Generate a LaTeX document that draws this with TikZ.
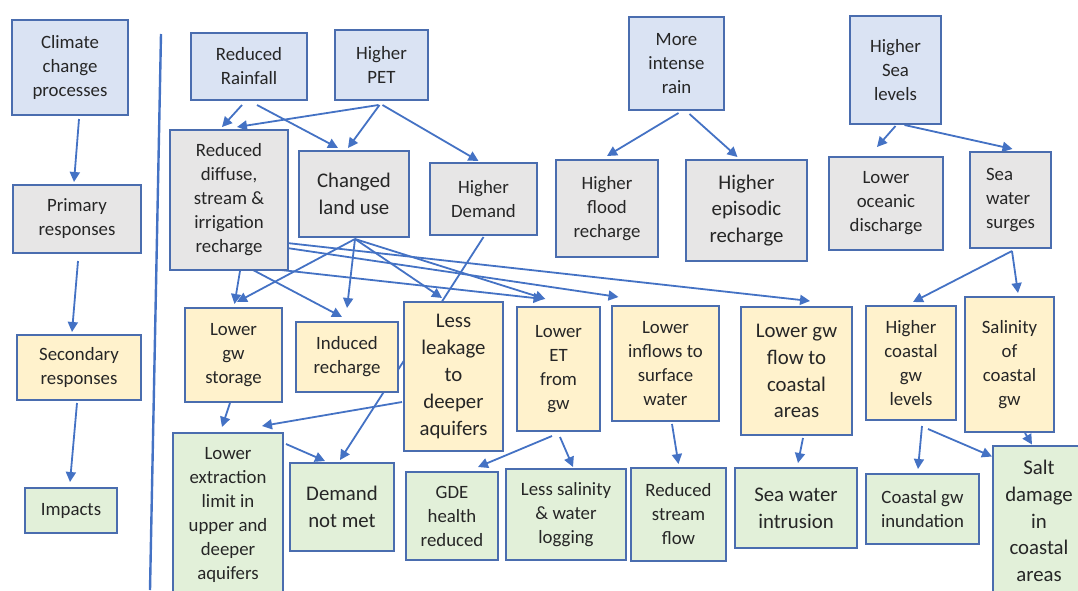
\documentclass[tikz,border=0pt]{standalone}
\usepackage{fontspec}
\setmainfont{Carlito}
\usetikzlibrary{arrows.meta,backgrounds}
\definecolor{boxline}{HTML}{4A6DAF}
\definecolor{arrline}{HTML}{4472C4}
\definecolor{climfill}{HTML}{DAE3F3}
\definecolor{primfill}{HTML}{E7E6E6}
\definecolor{secfill}{HTML}{FFF2CC}
\definecolor{impfill}{HTML}{E2F0D9}
\definecolor{txt}{HTML}{262626}
\begin{document}
\begin{tikzpicture}[
    x=0.5pt, y=-0.5pt,
    >={Triangle[length=5pt,width=5pt]},
    box/.style={
        draw=boxline,
        line width=1pt,
        align=center,
        inner sep=1pt,
        text=txt,
        font=\fontsize{9.4}{12}\selectfont
    },
    bigtxt/.style={font=\fontsize{10.4}{13.4}\selectfont},
    sz/.style 2 args={minimum width=#1*0.5pt, minimum height=#2*0.5pt},
    climbox/.style={box, fill=climfill},
    primbox/.style={box, fill=primfill},
    secbox/.style={box, fill=secfill},
    impbox/.style={box, fill=impfill},
    arr/.style={->, draw=arrline, line width=0.9pt}
]
    \clip (0,0) rectangle (1078,590);

    \node[climbox, sz={116}{95}] (legclim) at (70,67.5)
        {Climate\\change\\processes};
    \node[primbox, sz={128}{68}] (legprim) at (77,219)
        {Primary\\responses};
    \node[secbox, sz={124}{65}] (legsec) at (79,367.5)
        {Secondary\\responses};
    \node[impbox, sz={92}{45}] (legimp) at (71,510.5)
        {Impacts};

    \coordinate (divtop) at (161,34);
    \coordinate (divbot) at (150,590);
    \draw[arrline, line width=1.2pt] (divtop) -- (divbot);

    \node[climbox, sz={116}{67}] (rain) at (249,66.5)
        {Reduced\\Rainfall};
    \node[climbox, sz={93}{70}] (pet) at (381.5,65)
        {Higher\\PET};
    \node[climbox, sz={95}{93}] (intense) at (676.5,63.5)
        {More\\intense\\rain};
    \node[climbox, sz={91}{108}] (sealev) at (895.5,70)
        {Higher\\Sea\\levels};

    \node[primbox, sz={118}{140}] (diffuse) at (229,200)
        {Reduced\\diffuse,\\stream \&\\irrigation\\recharge};
    \node[primbox, bigtxt, sz={110}{86}] (landuse) at (354,194)
        {Changed\\land use};
    \node[primbox, sz={107}{72}] (demand) at (483.5,199)
        {Higher\\Demand};
    \node[primbox, sz={102}{97}] (flood) at (607,208.5)
        {Higher\\flood\\recharge};
    \node[primbox, bigtxt, sz={121}{101}] (episodic) at (746.5,210.5)
        {Higher\\episodic\\recharge};
    \node[primbox, sz={114}{93}] (oceanic) at (886,203.5)
        {Lower\\oceanic\\discharge};
    \node[primbox, align=left, sz={81}{96}] (surges) at (1010.5,200)
        {Sea\\water\\surges};

    \node[secbox, sz={97}{94}] (storage) at (233.5,355)
        {Lower\\gw\\storage};
    \node[secbox, sz={102}{70}] (induced) at (347,357)
        {Induced\\recharge};
    \node[secbox, bigtxt, sz={99}{149}] (leakage) at (453.5,376.5)
        {Less\\leakage\\to\\deeper\\aquifers};
    \node[secbox, sz={83}{124}] (lowet) at (558.5,369)
        {Lower\\ET\\from\\gw};
    \node[secbox, sz={107}{115}] (inflows) at (665.5,363.5)
        {Lower\\inflows to\\surface\\water};
    \node[secbox, bigtxt, sz={111}{128}] (gwflow) at (796.5,371)
        {Lower gw\\flow to\\coastal\\areas};
    \node[secbox, sz={90}{114}] (coastlev) at (911,363)
        {Higher\\coastal\\gw\\levels};
    \node[secbox, sz={89}{135}] (salinity) at (1009.5,364.5)
        {Salinity\\of\\coastal\\gw};

    \node[impbox, sz={110}{164}] (extract) at (228,515)
        {Lower\\extraction\\limit in\\upper and\\deeper\\aquifers};
    \node[impbox, bigtxt, sz={104}{88}] (notmet) at (342,507)
        {Demand\\not met};
    \node[impbox, sz={92}{88}] (gde) at (452,516)
        {GDE\\health\\reduced};
    \node[impbox, sz={120}{91}] (lesssal) at (566,514.5)
        {Less salinity\\\& water\\logging};
    \node[impbox, sz={95}{93}] (stream) at (678.5,514.5)
        {Reduced\\stream\\flow};
    \node[impbox, bigtxt, sz={122}{80}] (intrusion) at (796,508)
        {Sea water\\intrusion};
    \node[impbox, sz={113}{70}] (inund) at (922.5,509)
        {Coastal gw\\inundation};
    \node[impbox, bigtxt, sz={92}{151}] (saltdmg) at (1039,521)
        {Salt\\damage\\in\\coastal\\areas};

    \begin{scope}[on background layer]
    \draw[arr] ([shift={(9,3)}]legclim.south) -- ([shift={(-3,-2)}]legprim.north);
    \draw[arr] ([shift={(1,7)}]legprim.south) -- ([shift={(-7,-2)}]legsec.north);
    \draw[arr] ([shift={(-2,2)}]legsec.south) -- ([shift={(-1,-5)}]legimp.north);

    \draw[arr] ([shift={(-7,4)}]rain.south) -- ([shift={(-7,-2)}]diffuse.north);
    \draw[arr] ([shift={(8,4)}]rain.south) -- ([shift={(-16,-2)}]landuse.north);
    \draw[arr] ([shift={(-3,4)}]pet.south) -- ([shift={(8,-2)}]diffuse.north);
    \draw[arr] ([shift={(-2,4)}]pet.south) -- ([shift={(-6,-2)}]landuse.north);
    \draw[arr] ([shift={(1,4)}]pet.south) -- ([shift={(-5,-1)}]demand.north);
    \draw[arr] ([shift={(2,2)}]intense.south) -- ([shift={(0,-3)}]flood.north);
    \draw[arr] ([shift={(13,3)}]intense.south) -- ([shift={(-9,-2)}]episodic.north);
    \draw[arr] ([shift={(0,1)}]sealev.south) -- ([shift={(-9,-9)}]oceanic.north);
    \draw[arr] ([shift={(9,0)}]sealev.south) -- ([shift={(2,-2)}]surges.north);

    \draw[arr] ([shift={(11,0)}]diffuse.south) -- ([shift={(1,-3)}]storage.north);
    \draw[arr] ([shift={(24,-1)}]diffuse.south) -- ([shift={(-5,-4)}]induced.north);
    \draw[arr] ([shift={(34,-3)}]diffuse.south) -- ([shift={(-15,-7)}]lowet.north);
    \draw[arr] ([shift={(-2,48)}]diffuse.east) -- ([shift={(-47,-8)}]inflows.north);
    \draw[arr] ([shift={(-2,43)}]diffuse.east) -- ([shift={(13.5,-5)}]gwflow.north);
    \draw[arr] ([shift={(1,1)}]landuse.south) -- ([shift={(3.5,-5)}]storage.north);
    \draw[arr] ([shift={(1,1)}]landuse.south) -- ([shift={(0,-13)}]induced.north);
    \draw[arr] ([shift={(1,1)}]landuse.south) -- ([shift={(-11.5,-3)}]leakage.north);
    \draw[arr] ([shift={(1,1)}]landuse.south) -- ([shift={(-13,-7)}]lowet.north);
    \draw[arr] ([shift={(0,1)}]demand.south) -- ([shift={(-2,-2)}]notmet.north);

    \draw[arr] ([shift={(-3.5,0)}]storage.south) -- ([shift={(-6,-5)}]extract.north);
    \draw[arr] ([shift={(-1,25.5)}]leakage.west) -- ([shift={(34,-6)}]extract.north);
    \draw[arr] ([shift={(2,12)}]extract.north east) -- ([shift={(-17,-1)}]notmet.north);
    \draw[arr] ([shift={(-6.5,4)}]lowet.south) -- ([shift={(26,-4)}]gde.north);
    \draw[arr] ([shift={(1.5,5)}]lowet.south) -- ([shift={(7,-1)}]lesssal.north);
    \draw[arr] ([shift={(6.5,2)}]inflows.south) -- ([shift={(0,-3)}]stream.north);
    \draw[arr] ([shift={(6.5,2)}]gwflow.south) -- ([shift={(2,-4)}]intrusion.north);

    \draw[arr] ([shift={(1.5,2)}]surges.south) -- ([shift={(2,-3)}]coastlev.north);
    \draw[arr] ([shift={(1.5,2)}]surges.south) -- ([shift={(8.5,-3)}]salinity.north);
    \draw[arr] ([shift={(11,5)}]coastlev.south) -- ([shift={(-4.5,-4)}]inund.north);
    \draw[arr] ([shift={(17,8)}]coastlev.south) -- ([shift={(0,12)}]saltdmg.north west);
    \draw[arr] ([shift={(15.5,0)}]salinity.south) -- ([shift={(-7,0)}]saltdmg.north);
    \end{scope}
\end{tikzpicture}
\end{document}
